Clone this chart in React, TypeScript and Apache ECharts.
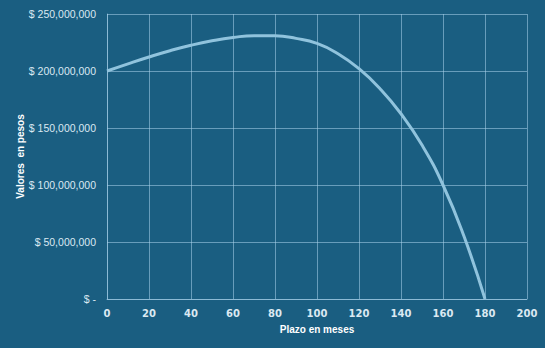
import React, { useEffect, useRef } from "react";
import * as echarts from "echarts";

const months = [0, 10, 20, 30, 40, 50, 60, 70, 80, 90, 100, 110, 120, 130, 140, 150, 160, 170, 180];
const values = [200, 206.3, 212.3, 217.8, 222.6, 226.5, 229.4, 231.0, 230.9, 228.6, 224.2, 215.2, 202.0, 184.5, 162.5, 135.0, 100.0, 55.0, 0].map((v) => v * 1e6);
const xTicks = [0, 20, 40, 60, 80, 100, 120, 140, 160, 180, 200];
const yTickLabels = ["$ -", "$ 50,000,000", "$ 100,000,000", "$ 150,000,000", "$ 200,000,000", "$ 250,000,000"];

export default function App() {
  const ref = useRef<HTMLDivElement>(null);
  useEffect(() => {
    const chart = echarts.init(ref.current!, null, { renderer: "svg" });
    const gridColor = "rgba(170,210,235,0.55)";
    chart.setOption({
      animation: false,
      backgroundColor: "#1A5E81",
      grid: { left: 107, right: 18, top: 14, bottom: 49 },
      xAxis: {
        type: "value",
        min: 0,
        max: 200,
        interval: 20,
        name: "Plazo en meses",
        nameLocation: "middle",
        nameGap: 25,
        nameMoveOverlap: false,
        nameTextStyle: { color: "#ffffff", fontSize: 10, fontWeight: "bold", fontFamily: "Liberation Sans" },
        axisLine: { show: true, lineStyle: { color: gridColor } },
        axisTick: { show: false },
        splitLine: { show: true, lineStyle: { color: gridColor, width: 1 } },
        axisLabel: {
          color: "#dbe9f2",
          fontSize: 10,
          fontWeight: "bold",
          fontFamily: "DejaVu Sans",
          margin: 9,
          formatter: (v: number) => String(xTicks.includes(v) ? v : ""),
        },
      },
      yAxis: {
        type: "value",
        min: 0,
        max: 250e6,
        interval: 50e6,
        name: "Valores  en pesos",
        nameLocation: "middle",
        nameGap: 82,
        nameMoveOverlap: false,
        nameRotate: 90,
        nameTextStyle: { color: "#ffffff", fontSize: 10, fontWeight: "bold", fontFamily: "Liberation Sans" },
        axisLine: { show: true, lineStyle: { color: gridColor } },
        axisTick: { show: false },
        splitLine: { show: true, lineStyle: { color: gridColor, width: 1 } },
        axisLabel: {
          color: "#dbe9f2",
          fontSize: 10.5,
          fontFamily: "Liberation Sans",
          margin: 11,
          formatter: (v: number) => yTickLabels[Math.round(v / 50e6)] ?? "",
        },
      },
      series: [
        {
          type: "line",
          data: months.map((m, i) => [m, values[i]]),
          smooth: 0.5,
          showSymbol: false,
          lineStyle: { color: "#90C3DD", width: 3 },
        },
      ],
    });
    return () => chart.dispose();
  }, []);
  return <div ref={ref} style={{ width: 545, height: 348, position: "absolute", left: 0, top: 0 }} />;
}
